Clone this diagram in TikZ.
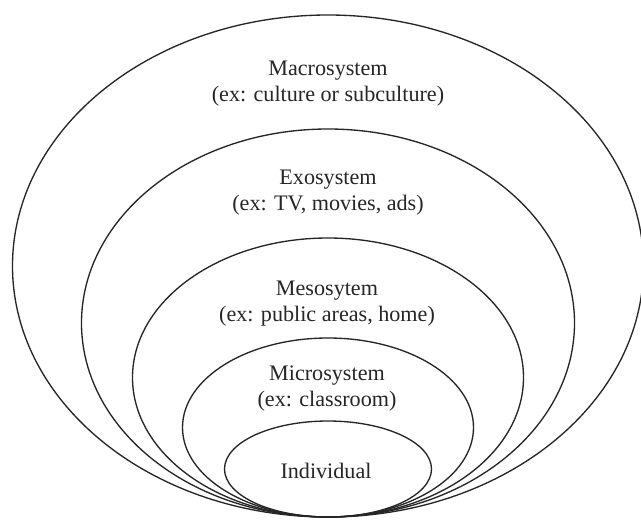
\documentclass[tikz,border=0pt]{standalone}
\usepackage{fontspec}
\setmainfont{Liberation Serif}
\usetikzlibrary{shapes.geometric}
\begin{document}
\begin{tikzpicture}[x=0.75pt,y=-0.75pt,
  ring/.style={draw=black!85, line width=1pt, ellipse, inner sep=0pt, fill=none},
  lbl/.style={align=center, font=\fontsize{16.6}{19.5}\selectfont, text=black!85, inner sep=0pt}]
\useasboundingbox[fill=white] (0,0) rectangle (641,521);
\node[ring, minimum width=473.25pt, minimum height=376.5pt] (macro) at (328,266) {};
\node[ring, minimum width=369.75pt, minimum height=291pt] (exo) at (328,323) {};
\node[ring, minimum width=293.25pt, minimum height=209.25pt] (meso) at (328,377.5) {};
\node[ring, minimum width=218.25pt, minimum height=134.25pt] (micro) at (328,427.5) {};
\node[ring, minimum width=155.25pt, minimum height=72pt] (indiv) at (328,469) {};
\node[lbl] (tmacro) at (328,84) {Macrosystem\\(ex: culture or subculture)};
\node[lbl] (texo) at (328,193) {Exosystem\\(ex: TV, movies, ads)};
\node[lbl] (tmeso) at (327,304) {Mesosytem\\(ex: public areas, home)};
\node[lbl] (tmicro) at (327,389) {Microsystem\\(ex: classroom)};
\node[lbl] (tindiv) at (326,471) {Individual};
\end{tikzpicture}
\end{document}
